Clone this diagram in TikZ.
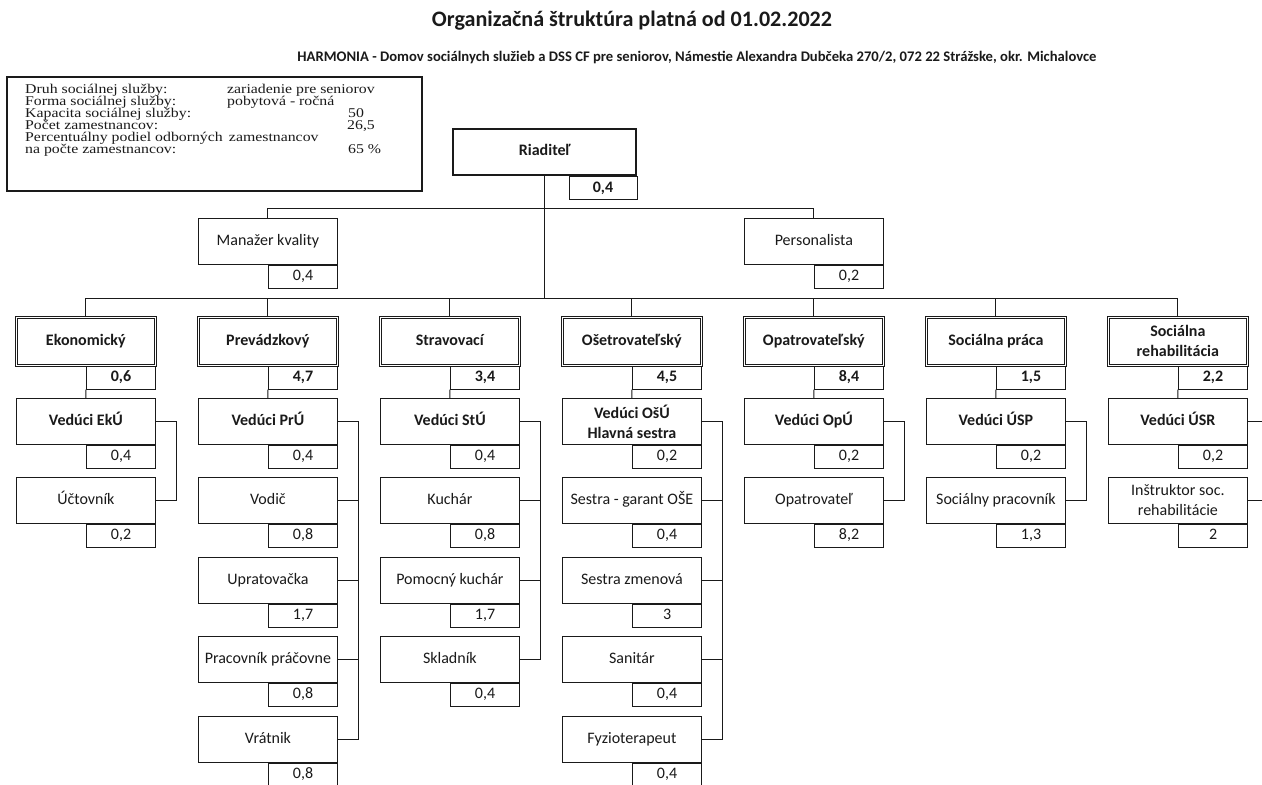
\documentclass[tikz,border=0pt]{standalone}
\usepackage{fontspec}
\usepackage{graphicx}
\setmainfont{Carlito}
\newfontfamily\tnr[FakeStretch=1.18]{Liberation Serif}
\usetikzlibrary{calc}
\definecolor{ink}{HTML}{1A1A1A}
\tikzset{
 ln/.style={draw=ink, line width=0.9pt},
 bxbase/.style={draw=ink, line width=0.8pt, fill=white, minimum width=139pt, minimum height=46pt,
   inner sep=1pt, align=center, font=\fontsize{16}{20}\selectfont, text=ink},
 bx/.style={bxbase, text height=11pt, text depth=3.5pt},
 bbx/.style={bx, font=\fontsize{16}{20}\selectfont\bfseries},
 bxtwo/.style={bxbase},
 bbxtwo/.style={bxbase, font=\fontsize{16}{20}\selectfont\bfseries},
 deptbox/.style={bbx, minimum height=48pt, double=white, double distance=1.6pt, line width=0.7pt},
 depttwo/.style={bbxtwo, minimum height=48pt, double=white, double distance=1.6pt, line width=0.7pt},
 dirbox/.style={bbx, minimum width=183pt, line width=2.4pt},
 val/.style={draw=ink, line width=0.8pt, fill=white, minimum width=69.5pt, minimum height=23pt,
   inner sep=0pt, text height=11pt, text depth=3.5pt, font=\fontsize{16}{18}\selectfont, text=ink},
 bval/.style={val, font=\fontsize{16}{18}\selectfont\bfseries},
 info/.style={font=\tnr\fontsize{13.4}{14}\selectfont, text=ink, anchor=base west, inner sep=0pt},
}
\newcommand{\ob}[7]{%
 \node[#4, anchor=north west] (#1) at (#2,#3) {#5};
 \node[#6, anchor=north west] (#1v) at (#1.south) {#7};}
\begin{document}
\begin{tikzpicture}[x=1pt,y=-1pt]
\useasboundingbox[fill=white] (0,0) rectangle (1262,785);
% titles
\node[text=ink, inner sep=0pt] (title) at (632,21) {\resizebox{400pt}{!}{\bfseries Organizačná štruktúra platná od 01.02.2022}};
\node[text=ink, inner sep=0pt] (sub) at (697,57) {\resizebox{799pt}{!}{\bfseries HARMONIA - Domov sociálnych služieb a DSS CF pre seniorov, Námestie Alexandra Dubčeka 270/2, 072 22 Strážske, okr. Michalovce}};
% info box
\node[draw=ink, line width=1.7pt, minimum width=415pt, minimum height=114pt, anchor=north west, inner sep=0pt] (infobox) at (6,76) {};
\node[info] (i1a) at (25,93) {Druh sociálnej služby:};
\node[info] (i1b) at (227,93) {zariadenie pre seniorov};
\node[info] (i2a) at (25,105) {Forma sociálnej služby:};
\node[info] (i2b) at (227,105) {pobytová - ročná};
\node[info] (i3a) at (25,117) {Kapacita sociálnej služby:};
\node[info] (i3b) at (348,117) {50};
\node[info] (i4a) at (25,129) {Počet zamestnancov:};
\node[info] (i4b) at (347,129) {26,5};
\node[info] (i5a) at (25,141) {Percentuálny podiel odborných\, zamestnancov};
\node[info] (i6a) at (25,153) {na počte zamestnancov:};
\node[info] (i6b) at (348,153) {65 \%};
% director
\node[dirbox, anchor=north west] (dir) at (452,128) {Riaditeľ};
\node[bval, minimum width=68pt, anchor=north east] (dirv) at (dir.south east) {0,4};
% staff of director
\ob{mgr}{198}{218}{bx}{Manažer kvality}{val}{0,4}
\ob{pers}{744}{218}{bx}{Personalista}{val}{0,2}
\draw[ln] (mgr.north) -- ++(0,-10) -| (pers.north);
% departments
\ob{ek}{16}{317}{deptbox}{Ekonomický}{bval}{0,6}
\ob{pr}{198}{317}{deptbox}{Prevádzkový}{bval}{4,7}
\ob{st}{380}{317}{deptbox}{Stravovací}{bval}{3,4}
\ob{os}{562}{317}{deptbox}{Ošetrovateľský}{bval}{4,5}
\ob{op}{744}{317}{deptbox}{Opatrovateľský}{bval}{8,4}
\ob{sp}{926}{317}{deptbox}{Sociálna práca}{bval}{1,5}
\ob{sr}{1108}{317}{depttwo}{Sociálna\\rehabilitácia}{bval}{2,2}
\coordinate (busL) at (85.5,298);
\draw[ln] (dir.south) -- (dir.south |- busL);
\draw[ln] (ek.north |- busL) -- (sr.north |- busL);
\foreach \d in {ek,pr,st,os,op,sp,sr} \draw[ln] (\d.north) -- (\d.north |- busL);
% Ekonomicky
\ob{ekA}{16}{398}{bbx}{Vedúci EkÚ}{val}{0,4}
\ob{ekB}{16}{477}{bx}{Účtovník}{val}{0,2}
% Prevadzkovy
\ob{prA}{198}{398}{bbx}{Vedúci PrÚ}{val}{0,4}
\ob{prB}{198}{477}{bx}{Vodič}{val}{0,8}
\ob{prC}{198}{557}{bx}{Upratovačka}{val}{1,7}
\ob{prD}{198}{636}{bx}{Pracovník práčovne}{val}{0,8}
\ob{prE}{198}{716}{bx}{Vrátnik}{val}{0,8}
% Stravovaci
\ob{stA}{380}{398}{bbx}{Vedúci StÚ}{val}{0,4}
\ob{stB}{380}{477}{bx}{Kuchár}{val}{0,8}
\ob{stC}{380}{557}{bx}{Pomocný kuchár}{val}{1,7}
\ob{stD}{380}{636}{bx}{Skladník}{val}{0,4}
% Osetrovatelsky
\ob{osA}{562}{398}{bbxtwo}{Vedúci OšÚ\\Hlavná sestra}{val}{0,2}
\ob{osB}{562}{477}{bx}{Sestra - garant OŠE}{val}{0,4}
\ob{osC}{562}{557}{bx}{Sestra zmenová}{val}{3}
\ob{osD}{562}{636}{bx}{Sanitár}{val}{0,4}
\ob{osE}{562}{716}{bx}{Fyzioterapeut}{val}{0,4}
% Opatrovatelsky
\ob{opA}{744}{398}{bbx}{Vedúci OpÚ}{val}{0,2}
\ob{opB}{744}{477}{bx}{Opatrovateľ}{val}{8,2}
% Socialna praca
\ob{spA}{926}{398}{bbx}{Vedúci ÚSP}{val}{0,2}
\ob{spB}{926}{477}{bx}{Sociálny pracovník}{val}{1,3}
% Socialna rehabilitacia
\ob{srA}{1108}{398}{bbx}{Vedúci ÚSR}{val}{0,2}
\ob{srB}{1108}{477}{bxtwo}{Inštruktor soc.\\rehabilitácie}{val}{2}
% dept -> leader
\foreach \d in {ek,pr,st,os,op,sp,sr} \draw[ln] (\d v.south west) -- (\d A.north);
% brackets
\draw[ln] (ekA.east) -- ++(21,0) |- (ekB.east);
\draw[ln] (prA.east) -- ++(21,0) |- (prE.east);
\foreach \n in {B,C,D} \draw[ln] (pr\n.east) -- ++(21,0);
\draw[ln] (stA.east) -- ++(21,0) |- (stD.east);
\foreach \n in {B,C} \draw[ln] (st\n.east) -- ++(21,0);
\draw[ln] (osA.east) -- ++(21,0) |- (osE.east);
\foreach \n in {B,C,D} \draw[ln] (os\n.east) -- ++(21,0);
\draw[ln] (opA.east) -- ++(21,0) |- (opB.east);
\draw[ln] (spA.east) -- ++(21,0) |- (spB.east);
\draw[ln] (srA.east) -- ++(16,0);
\draw[ln] (srB.east) -- ++(16,0);
\end{tikzpicture}
\end{document}
